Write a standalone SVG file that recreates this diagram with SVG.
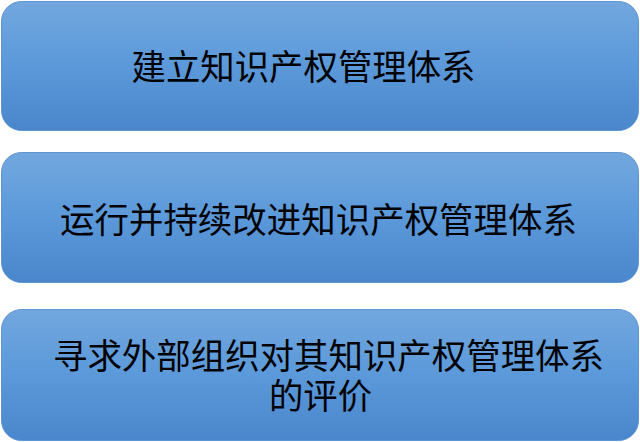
<svg xmlns="http://www.w3.org/2000/svg" width="640" height="442" viewBox="0 0 640 442">
<defs>
<linearGradient id="g" x1="0" y1="0" x2="0" y2="1">
<stop offset="0" stop-color="#72a7de"/>
<stop offset="0.5" stop-color="#5b99da"/>
<stop offset="1" stop-color="#4986cb"/>
</linearGradient>
</defs>
<style>
.box{fill:url(#g);stroke:#5f96d2;stroke-width:1}
.t{font-family:"Noto Sans CJK SC","Noto Sans",sans-serif;font-size:35px;fill:#000;text-anchor:middle}
</style>
<rect width="640" height="442" fill="#ffffff"/>
<g id="connectors"></g>
<g id="node1">
<rect class="box" x="1.5" y="1.5" width="637" height="129" rx="20" ry="20"/>
<text class="t" x="303.5" y="79.5" textLength="344" lengthAdjust="spacingAndGlyphs">建立知识产权管理体系</text>
</g>
<g id="node2">
<rect class="box" x="1.5" y="152.5" width="637" height="130" rx="20" ry="20"/>
<text class="t" x="318.5" y="233" textLength="517" lengthAdjust="spacingAndGlyphs">运行并持续改进知识产权管理体系</text>
</g>
<g id="node3">
<rect class="box" x="1.5" y="309.5" width="637" height="131" rx="20" ry="20"/>
<text class="t"><tspan x="328.5" y="369" textLength="551" lengthAdjust="spacingAndGlyphs">寻求外部组织对其知识产权管理体系</tspan><tspan x="320.5" y="409" textLength="103" lengthAdjust="spacingAndGlyphs">的评价</tspan></text>
</g>
</svg>
